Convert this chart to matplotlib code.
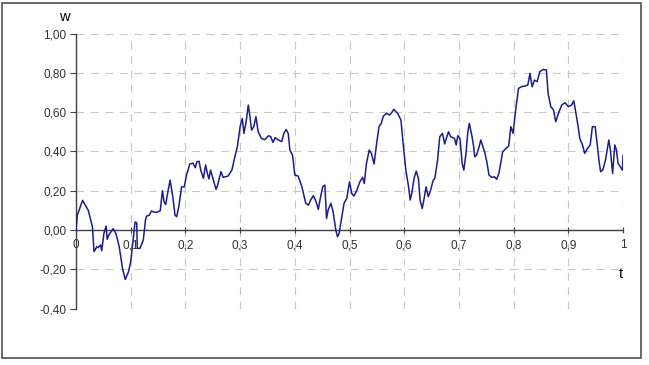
import numpy as np
import matplotlib
matplotlib.use("Agg")
import matplotlib.pyplot as plt
from matplotlib.patches import Rectangle

plt.rcParams['font.family'] = ['Liberation Sans', 'DejaVu Sans']

# path w(t)
t = [0.0, 0.0024, 0.012, 0.0225, 0.030, 0.033, 0.038, 0.040, 0.045, 0.047,
     0.051, 0.055, 0.057, 0.060, 0.068, 0.073, 0.079, 0.085, 0.090, 0.096,
     0.100, 0.103, 0.108, 0.111, 0.112, 0.117, 0.123, 0.127, 0.129, 0.134,
     0.138, 0.142, 0.147, 0.154, 0.158, 0.161, 0.164, 0.168, 0.172, 0.177,
     0.181, 0.184, 0.188, 0.193, 0.198, 0.202, 0.208, 0.214, 0.218, 0.221,
     0.225, 0.228, 0.233, 0.237, 0.240, 0.243, 0.246, 0.251, 0.256, 0.259,
     0.265, 0.269, 0.278, 0.285, 0.291, 0.295, 0.300, 0.304, 0.307, 0.311,
     0.315, 0.318, 0.321, 0.325, 0.329, 0.333, 0.339, 0.345, 0.352, 0.356,
     0.360, 0.364, 0.370, 0.376, 0.380, 0.384, 0.388, 0.391, 0.396, 0.400,
     0.406, 0.413, 0.420, 0.425, 0.429, 0.434, 0.439, 0.443, 0.446, 0.451,
     0.455, 0.458, 0.461, 0.466, 0.470, 0.475, 0.478, 0.481, 0.486, 0.490,
     0.495, 0.500, 0.504, 0.508, 0.513, 0.519, 0.524, 0.527, 0.531, 0.536,
     0.540, 0.545, 0.550, 0.554, 0.558, 0.562, 0.568, 0.573, 0.577, 0.581,
     0.588, 0.594, 0.598, 0.603, 0.608, 0.611, 0.614, 0.618, 0.622, 0.626,
     0.629, 0.633, 0.637, 0.640, 0.644, 0.648, 0.653, 0.656, 0.661, 0.665,
     0.670, 0.674, 0.678, 0.681, 0.685, 0.692, 0.695, 0.698, 0.702, 0.706,
     0.709, 0.713, 0.716, 0.719, 0.724, 0.727, 0.729, 0.732, 0.737, 0.740,
     0.744, 0.747, 0.751, 0.755, 0.760, 0.765, 0.769, 0.773, 0.777, 0.780,
     0.786, 0.791, 0.795, 0.799, 0.803, 0.809, 0.815, 0.821, 0.826, 0.830,
     0.832, 0.834, 0.838, 0.843, 0.848, 0.854, 0.860, 0.863, 0.868, 0.873,
     0.877, 0.882, 0.888, 0.894, 0.900, 0.906, 0.910, 0.914, 0.918, 0.921,
     0.926, 0.930, 0.935, 0.940, 0.944, 0.949, 0.952, 0.956, 0.959, 0.963,
     0.968, 0.974, 0.977, 0.980, 0.981, 0.985, 0.988, 0.991, 0.995, 0.999,
     1.000]
w = [0.0, 0.076, 0.151, 0.100, 0.017, -0.110, -0.085, -0.090, -0.076, -0.105,
     -0.017, 0.020, -0.047, -0.025, 0.007, -0.017, -0.085, -0.195, -0.251, -0.212,
     -0.161, -0.085, 0.041, 0.037, -0.093, -0.093, -0.051, 0.051, 0.071, 0.076,
     0.097, 0.092, 0.090, 0.098, 0.200, 0.144, 0.130, 0.195, 0.254, 0.170,
     0.076, 0.068, 0.119, 0.220, 0.220, 0.280, 0.336, 0.340, 0.317, 0.348,
     0.350, 0.305, 0.263, 0.331, 0.290, 0.260, 0.305, 0.255, 0.207, 0.230,
     0.297, 0.268, 0.275, 0.305, 0.380, 0.424, 0.526, 0.568, 0.492, 0.551,
     0.636, 0.577, 0.509, 0.526, 0.577, 0.500, 0.466, 0.460, 0.480, 0.475,
     0.446, 0.470, 0.458, 0.450, 0.492, 0.512, 0.492, 0.407, 0.380, 0.280,
     0.275, 0.220, 0.136, 0.127, 0.153, 0.175, 0.144, 0.105, 0.153, 0.220,
     0.229, 0.059, 0.102, 0.136, 0.093, 0.000, -0.034, -0.017, 0.068, 0.136,
     0.161, 0.246, 0.187, 0.173, 0.200, 0.246, 0.268, 0.237, 0.339, 0.407,
     0.390, 0.336, 0.450, 0.526, 0.543, 0.580, 0.594, 0.585, 0.597, 0.614,
     0.594, 0.560, 0.441, 0.305, 0.220, 0.153, 0.190, 0.263, 0.300, 0.263,
     0.153, 0.110, 0.170, 0.220, 0.170, 0.200, 0.254, 0.263, 0.356, 0.475,
     0.492, 0.438, 0.475, 0.500, 0.475, 0.466, 0.433, 0.480, 0.466, 0.339,
     0.305, 0.390, 0.492, 0.543, 0.475, 0.424, 0.373, 0.380, 0.424, 0.458,
     0.424, 0.398, 0.348, 0.280, 0.268, 0.271, 0.258, 0.288, 0.348, 0.398,
     0.415, 0.427, 0.526, 0.492, 0.594, 0.721, 0.730, 0.733, 0.738, 0.797,
     0.760, 0.729, 0.763, 0.755, 0.806, 0.817, 0.814, 0.696, 0.628, 0.611,
     0.551, 0.594, 0.636, 0.648, 0.628, 0.636, 0.658, 0.594, 0.526, 0.466,
     0.433, 0.390, 0.415, 0.433, 0.526, 0.526, 0.458, 0.356, 0.297, 0.305,
     0.356, 0.458, 0.407, 0.322, 0.288, 0.433, 0.407, 0.339, 0.322, 0.305,
     0.380]

yticks = [-0.4, -0.2, 0.0, 0.2, 0.4, 0.6, 0.8, 1.0]
ylabels = ["-0,40", "-0,20", "0,00", "0,20", "0,40", "0,60", "0,80", "1,00"]
xticks = [0.0, 0.1, 0.2, 0.3, 0.4, 0.5, 0.6, 0.7, 0.8, 0.9, 1.0]
xlabels = ["0", "0,1", "0,2", "0,3", "0,4", "0,5", "0,6", "0,7", "0,8", "0,9", "1"]

fig = plt.figure(figsize=(6.49, 3.65), dpi=100)
ax = fig.add_axes([76/649, 1 - 308.7/365, 547/649, 275.2/365])

axcol = '#404040'
gridcol = '#c8c8c8'

# dashed grid
for y in yticks:
    if y != 0:
        ax.axhline(y, color=gridcol, lw=0.8, dashes=(7, 6), zorder=0)
for x in xticks[1:]:
    ax.axvline(x, color=gridcol, lw=0.8, dashes=(7, 6), zorder=0)

ax.plot(t, w, color='#1c1c8a', lw=1.1, zorder=3)

ax.set_xlim(0, 1)
ax.set_ylim(-0.4, 1.0)

for s in ['top', 'right']:
    ax.spines[s].set_visible(False)
ax.spines['bottom'].set_position(('data', 0))
ax.spines['bottom'].set_color(axcol)
ax.spines['left'].set_color(axcol)
ax.spines['bottom'].set_linewidth(1.0)
ax.spines['left'].set_linewidth(1.0)

ax.set_yticks(yticks)
ax.set_yticklabels(ylabels)
ax.set_xticks(xticks)
ax.set_xticklabels(xlabels)
ax.tick_params(axis='y', direction='out', length=4, color=axcol,
               labelsize=8.5, labelcolor='#333333', pad=3)
ax.tick_params(axis='x', direction='inout', length=5, color=axcol,
               labelsize=8.5, labelcolor='#333333', pad=4)

fig.text(64/649, 1 - 17/365, "w", fontsize=10.5, ha='center', va='center')
fig.text(621/649, 1 - 274/365, "t", fontsize=10.5, ha='center', va='center')

# outer border
fig.patches.append(Rectangle((2/649, 7/365), 639/649, 355/365,
                             transform=fig.transFigure, fill=False,
                             edgecolor='#505050', lw=1.2))

fig.savefig("out.png", dpi=100)
